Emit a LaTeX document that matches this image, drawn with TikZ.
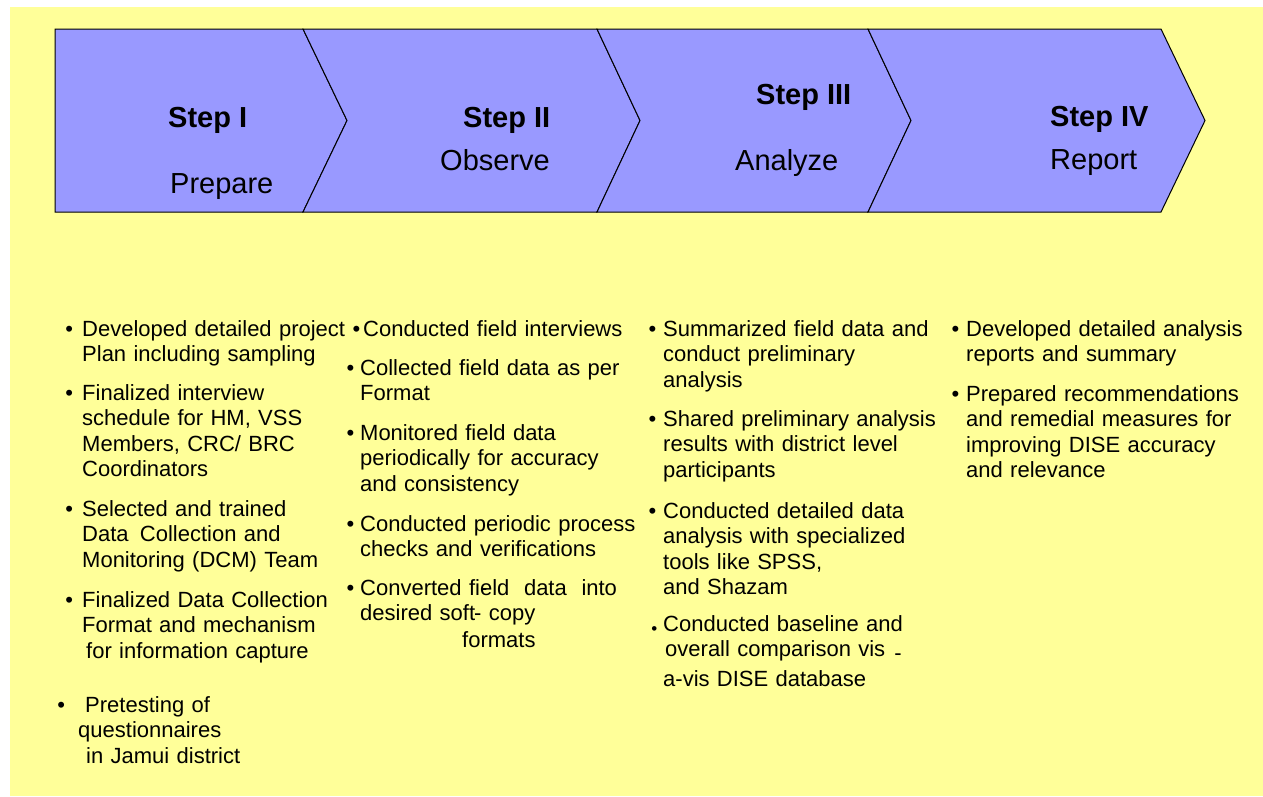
\documentclass[tikz,border=0pt]{standalone}
\usepackage{fontspec}
\setmainfont{Liberation Sans}
\definecolor{bgyellow}{RGB}{255,255,153}
\definecolor{chevblue}{RGB}{153,153,255}
% bullet hung to the left of the first line, #1 = gap in pt
\newcommand{\bul}[1]{\llap{\textbullet\hspace{#1pt}}}

\begin{document}
\begin{tikzpicture}[x=1pt,y=-1pt,
  chev/.style={fill=chevblue,draw=black,line width=1pt,line join=miter},
  stepname/.style={anchor=base west,inner sep=0pt,font=\fontsize{29}{34}\selectfont\bfseries},
  stepverb/.style={anchor=base west,inner sep=0pt,font=\fontsize{29}{34}\selectfont},
  bulletitem/.style={anchor=base west,inner sep=0pt,text width=320pt,align=left,
    font=\fontsize{22}{25.6}\selectfont},
]
% page and backdrop
\useasboundingbox (0,0) rectangle (1263,796);
\fill[white] (0,0) rectangle (1263,796);
\fill[bgyellow] (10,7) rectangle (1263,796);

% process chevrons
\draw[chev] (55,29) -- (303,29) -- (347,120.5) -- (303,212) -- (55,212) -- cycle;
\draw[chev] (303,29) -- (597,29) -- (640,120.5) -- (597,212) -- (303,212) -- (347,120.5) -- cycle;
\draw[chev] (597,29) -- (868,29) -- (911,120.5) -- (868,212) -- (597,212) -- (640,120.5) -- cycle;
\draw[chev] (868,29) -- (1161,29) -- (1205,120.5) -- (1161,212) -- (868,212) -- (911,120.5) -- cycle;

% step titles
\node[stepname] (s1) at (168,127) {Step I};
\node[stepverb] (v1) at (170,193) {Prepare};
\node[stepname] (s2) at (463,127) {Step II};
\node[stepverb] (v2) at (440,170) {Observe};
\node[stepname] (s3) at (756,104) {Step III};
\node[stepverb] (v3) at (735,170) {Analyze};
\node[stepname] (s4) at (1050,126) {Step IV};
\node[stepverb] (v4) at (1050,169) {Report};

% Step I activities
\node[bulletitem] (p1) at (82,336) {\bul{9}Developed detailed project\\Plan including sampling};
\node[bulletitem] (p2) at (82,400) {\bul{9}Finalized interview\\schedule for HM, VSS\\Members, CRC/ BRC\\Coordinators};
\node[bulletitem] (p3) at (82,516) {\bul{9}Selected and trained\\Data\hspace{4pt} Collection and\\Monitoring (DCM) Team};
\node[bulletitem] (p4) at (82,607) {\bul{9}Finalized Data Collection\\Format and mechanism\\\hspace*{4pt}for information capture};
\node[bulletitem] (p5) at (78,712) {\bul{13}\hspace*{7pt}Pretesting of\\questionnaires\\\hspace*{8pt}in Jamui district};

% Step II activities
\node[bulletitem] (o1) at (363,336) {\bul{3}Conducted field interviews};
\node[bulletitem] (o2) at (360,375) {\bul{6}Collected field data as per\\Format};
\node[bulletitem] (o3) at (360,440) {\bul{6}Monitored field data\\periodically for accuracy\\and consistency};
\node[bulletitem] (o4) at (360,531) {\bul{6}Conducted periodic process\\checks and verifications};
\node[bulletitem] (o5) at (360,595) {\bul{6}Converted fi\rlap{-}eld\ \ data\ \ into\\desired soft\kern-1pt- copy\\[1.4pt]\hspace*{102pt}formats};

% Step III activities
\node[bulletitem] (a1) at (663,336) {\bul{7}Summarized field data and\\conduct preliminary\\analysis};
\node[bulletitem] (a2) at (663,426) {\bul{7}Shared preliminary analysis\\results with district level\\participants};
\node[bulletitem] (a3) at (663,518) {\bul{7}Conducted detailed data\\analysis with specialized\\tools like SPSS,\\and Shazam};
\node[bulletitem] (a4) at (663,631) {\llap{\raisebox{-3pt}{\fontsize{17}{17}\selectfont\textbullet}\hspace{6pt}}Conducted baseline and\\\hspace*{2pt}overall comparison vis\hspace{9pt}\raisebox{-4pt}{-}\\[4pt]a-vis DISE database};

% Step IV activities
\node[bulletitem] (r1) at (966,336) {\bul{7}Developed detailed analysis\\reports and summary};
\node[bulletitem] (r2) at (966,401) {\bul{7}Prepared recommendations\\and remedial measures for\\improving DISE accuracy\\and relevance};
\end{tikzpicture}
\end{document}
